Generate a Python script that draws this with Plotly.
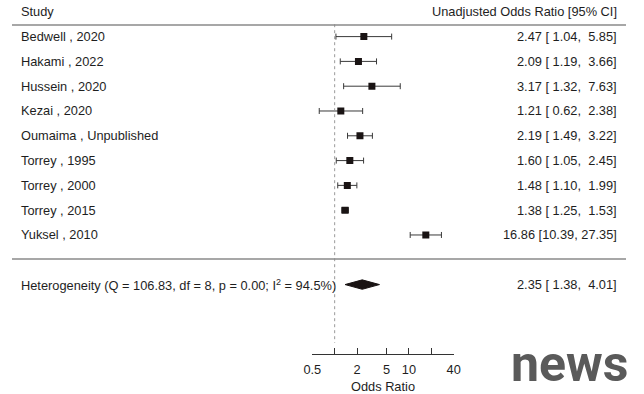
import plotly.graph_objects as go

studies = ["Bedwell , 2020", "Hakami , 2022", "Hussein , 2020", "Kezai , 2020",
           "Oumaima , Unpublished", "Torrey , 1995", "Torrey , 2000", "Torrey , 2015",
           "Yuksel , 2010"]
est = [2.47, 2.09, 3.17, 1.21, 2.19, 1.60, 1.48, 1.38, 16.86]
lower = [1.04, 1.19, 1.32, 0.62, 1.49, 1.05, 1.10, 1.25, 10.39]
upper = [5.85, 3.66, 7.63, 2.38, 3.22, 2.45, 1.99, 1.53, 27.35]

pooled_est = 2.35
pooled_lower = 1.38
pooled_upper = 4.01
het_label = "Heterogeneity (Q = 106.83, df = 8, p = 0.00; I<sup>2</sup> = 94.5%)"

tick_vals = [0.5, 2, 5, 10, 40]
tick_text = ["0.5", "2", "5", "10", "40"]
unlabeled_ticks = [1, 20]

W, H = 644, 394
FONT = "Liberation Sans, Arial, sans-serif"
FS = 12.8
TXT = "#1e1e1e"
RULE = "#8a8a8a"

n = len(studies)
ys = [n - i for i in range(n)]
ys_sum = -1


def fmt(e, l, u):
    s = f"{e:.2f} [{l:5.2f}, {u:5.2f}]"
    return s.replace(" ", "\u00a0")


fig = go.Figure()

# study estimates with CIs
fig.add_trace(go.Scatter(
    x=est, y=ys, mode="markers",
    marker=dict(symbol="square", size=7, color="#1a1414", line=dict(width=0)),
    error_x=dict(type="data", symmetric=False,
                 array=[u - e for u, e in zip(upper, est)],
                 arrayminus=[e - l for e, l in zip(est, lower)],
                 color="#3a3a3a", thickness=1, width=3),
    showlegend=False, hoverinfo="skip"))

# pooled diamond
h = 0.19
fig.add_trace(go.Scatter(
    x=[pooled_lower, pooled_est, pooled_upper, pooled_est, pooled_lower],
    y=[ys_sum, ys_sum + h, ys_sum, ys_sum - h, ys_sum],
    mode="lines", fill="toself", fillcolor="#1a1414",
    line=dict(color="#1a1414", width=1), showlegend=False, hoverinfo="skip"))

shapes = []
# reference line at OR = 1
shapes.append(dict(type="line", xref="x", yref="y", x0=1, x1=1, y0=9.5, y1=-3.35,
                   line=dict(color="#9a9a9a", width=1, dash="dot")))
# horizontal rules
for yv in [9.47, 0.03]:
    shapes.append(dict(type="line", xref="paper", yref="y", x0=12 / W, x1=626 / W,
                       y0=yv, y1=yv, line=dict(color=RULE, width=1.5)))

ann = []
left_x = 20 / W
right_x = 618 / W
tf = dict(size=FS, color=TXT, family=FONT)
ann.append(dict(x=left_x, y=10, xref="paper", yref="y", text="Study", showarrow=False,
                xanchor="left", yanchor="middle", font=tf, borderpad=0))
ann.append(dict(x=right_x, y=10, xref="paper", yref="y", text="Unadjusted Odds Ratio [95% CI]",
                showarrow=False, xanchor="right", yanchor="middle", font=tf, borderpad=0))
for s, e, l, u, yv in zip(studies, est, lower, upper, ys):
    ann.append(dict(x=left_x, y=yv, xref="paper", yref="y", text=s, showarrow=False,
                    xanchor="left", yanchor="middle", font=tf, borderpad=0))
    ann.append(dict(x=right_x, y=yv, xref="paper", yref="y", text=fmt(e, l, u),
                    showarrow=False, xanchor="right", yanchor="middle", font=tf, borderpad=0))
ann.append(dict(x=left_x, y=ys_sum, xref="paper", yref="y", text=het_label, showarrow=False,
                xanchor="left", yanchor="middle", font=tf, borderpad=0))
ann.append(dict(x=right_x, y=ys_sum, xref="paper", yref="y",
                text=fmt(pooled_est, pooled_lower, pooled_upper), showarrow=False,
                xanchor="right", yanchor="middle", font=tf, borderpad=0))
# watermark
ann.append(dict(x=569 / W, y=(354 - 393) / 354, xref="paper", yref="paper", text="<b>news</b>",
                showarrow=False, xanchor="center", yanchor="bottom",
                font=dict(size=50, color="#5a5a5a", family="Roboto, Liberation Sans, sans-serif"),
                borderpad=0, borderwidth=0))

fig.update_layout(
    width=W, height=H,
    margin=dict(l=0, r=0, t=0, b=40, autoexpand=False),
    paper_bgcolor="white", plot_bgcolor="rgba(0,0,0,0)",
    shapes=shapes, annotations=ann,
    xaxis=dict(type="log", domain=[312.3 / W, 453.7 / W],
               range=[-0.30103, 1.60206],
               tickvals=tick_vals, ticktext=tick_text,
               ticks="inside", ticklen=6, tickcolor="#333", tickwidth=1,
               minor=dict(tickvals=unlabeled_ticks, ticks="inside", ticklen=6,
                          tickcolor="#333", tickwidth=1, showgrid=False),
               showline=True, linecolor="#333", linewidth=1,
               showgrid=False, zeroline=False, ticklabelstandoff=4,
               tickfont=dict(size=FS, color=TXT, family=FONT),
               title=dict(text="Odds Ratio", font=dict(size=FS, color=TXT, family=FONT), standoff=10)),
    yaxis=dict(range=[-3.8, 10.476], visible=False, fixedrange=True),
    font=dict(family=FONT, color=TXT),
)

fig.write_html("out.html", config={"displayModeBar": False},
               post_script="document.body.style.margin='0';document.body.style.overflow='hidden';")
